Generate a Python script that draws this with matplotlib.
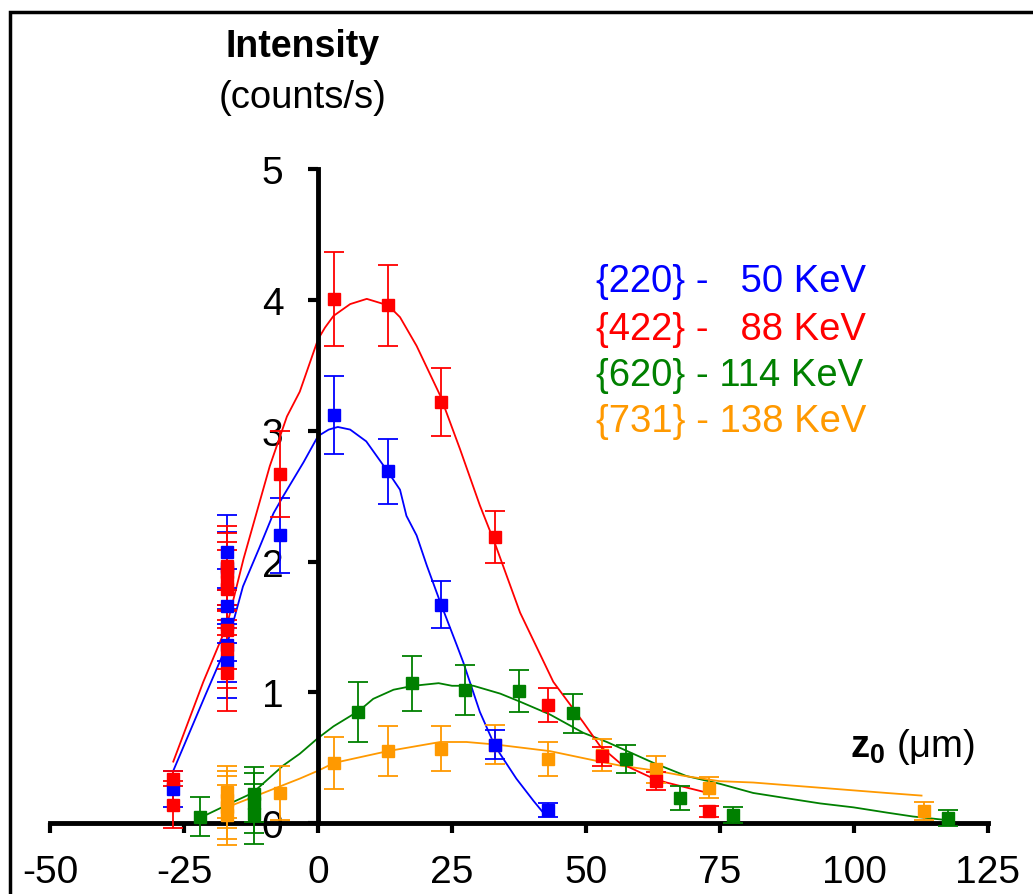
import matplotlib
matplotlib.use("Agg")
import matplotlib.pyplot as plt
from matplotlib.patches import Rectangle

plt.rcParams['font.family'] = ['Liberation Sans', 'DejaVu Sans']
plt.rcParams['axes.unicode_minus'] = False
plt.rcParams['mathtext.fontset'] = 'custom'
plt.rcParams['mathtext.rm'] = 'Liberation Sans'
plt.rcParams['mathtext.bf'] = 'Liberation Sans:bold'

# measured points: depth z0 (um), intensity (counts/s), error
z_220 = [-27, -17, -17, -17, -17, -17, -17, -7, 3, 13, 23, 33, 43]
i_220 = [0.26, 2.07, 1.95, 1.66, 1.52, 1.36, 1.24, 2.20, 3.12, 2.69, 1.67, 0.60, 0.10]
e_220 = [0.14, 0.29, 0.28, 0.28, 0.28, 0.28, 0.28, 0.29, 0.30, 0.25, 0.18, 0.11, 0.05]

z_422 = [-27, -27, -17, -17, -17, -17, -17, -17, -17, -7, 3, 13, 23, 33, 43, 53, 63, 73]
i_422 = [0.34, 0.14, 1.97, 1.92, 1.85, 1.79, 1.48, 1.33, 1.15, 2.67, 4.01, 3.96, 3.22, 2.19, 0.90, 0.51, 0.32, 0.09]
e_422 = [0.06, 0.18, 0.30, 0.30, 0.30, 0.30, 0.30, 0.30, 0.29, 0.33, 0.36, 0.31, 0.26, 0.20, 0.13, 0.07, 0.07, 0.04]

z_620 = [-22, -12, -12, -12, 7.5, 17.5, 27.5, 37.5, 47.5, 57.5, 67.5, 77.5, 117.5]
i_620 = [0.05, 0.22, 0.15, 0.07, 0.85, 1.07, 1.02, 1.01, 0.84, 0.49, 0.19, 0.06, 0.04]
e_620 = [0.15, 0.21, 0.23, 0.23, 0.23, 0.21, 0.19, 0.16, 0.15, 0.11, 0.09, 0.06, 0.06]

z_731 = [-17, -17, -17, -17, -7, 3, 13, 23, 33, 43, 53, 63, 73, 113]
i_731 = [0.24, 0.18, 0.12, 0.06, 0.23, 0.46, 0.55, 0.57, 0.60, 0.49, 0.52, 0.41, 0.27, 0.09]
e_731 = [0.20, 0.22, 0.24, 0.23, 0.21, 0.20, 0.19, 0.17, 0.15, 0.13, 0.12, 0.10, 0.08, 0.07]

# fitted curves
fz_220 = [-27, -21, -17, -14, -11, -8.3, -6.5, -2.7, 0, 2, 3.7, 6, 9, 13, 15.3, 16.5, 18.4, 20.3, 22.8, 25.9, 27.1, 30.2, 33, 37, 40.2, 42.4]
fi_220 = [0.40, 0.98, 1.36, 1.81, 2.10, 2.37, 2.50, 2.76, 2.96, 3.01, 3.03, 3.01, 2.92, 2.69, 2.55, 2.35, 2.20, 1.97, 1.69, 1.36, 1.23, 0.85, 0.59, 0.34, 0.17, 0.06]

fz_422 = [-27, -21.4, -17, -13.9, -9, -5.8, -3.4, 0, 1.3, 2.9, 6, 9.1, 13.1, 15.3, 18.4, 22.8, 26.5, 30.2, 33, 37.7, 43.9, 49.5, 52.6, 56.3, 62.6, 65, 72.8]
fi_422 = [0.47, 1.08, 1.51, 2.02, 2.73, 3.11, 3.30, 3.70, 3.79, 3.88, 3.97, 4.01, 3.96, 3.87, 3.65, 3.27, 2.86, 2.43, 2.14, 1.61, 1.08, 0.77, 0.59, 0.46, 0.34, 0.31, 0.23]

fz_620 = [-22, -16.4, -12.2, -6.5, -3.4, 0, 2.9, 7.7, 10.3, 14.1, 17.8, 22.5, 25, 29, 34, 37.6, 43.3, 49.5, 53.9, 58.8, 62.6, 68.7, 75, 81.2, 87.4, 93.7, 99.9, 106.1, 111, 117.9]
fi_620 = [0.04, 0.15, 0.23, 0.44, 0.53, 0.65, 0.74, 0.86, 0.95, 1.02, 1.05, 1.07, 1.05, 1.05, 0.99, 0.93, 0.83, 0.69, 0.62, 0.53, 0.46, 0.36, 0.30, 0.23, 0.19, 0.15, 0.12, 0.08, 0.05, 0.02]

fz_731 = [-17, -10.2, -6.5, -3.4, 0, 3, 13, 22.8, 27.7, 33.3, 43.3, 52.6, 56.3, 63.1, 68.4, 75, 81.2, 87.4, 93.7, 99.9, 106.1, 112.6]
fi_731 = [0.12, 0.23, 0.29, 0.34, 0.40, 0.46, 0.55, 0.62, 0.62, 0.60, 0.55, 0.47, 0.44, 0.40, 0.36, 0.32, 0.31, 0.29, 0.27, 0.25, 0.23, 0.21]

labels = ["{220} -   50 KeV", "{422} -   88 KeV", "{620} - 114 KeV", "{731} - 138 KeV"]
colors = ['#0000FF', '#FF0000', '#008000', '#FF9900']

W, H = 1033, 895
fig = plt.figure(figsize=(W / 100, H / 100), dpi=100, facecolor='white')
ax = fig.add_axes([50 / W, 0.00626, 938 / W, 0.8471])
ax.set_xlim(-50, 125)
ax.set_ylim(-0.5, 5.3)

series = [
    (z_620, i_620, e_620, fz_620, fi_620, colors[2]),
    (z_731, i_731, e_731, fz_731, fi_731, colors[3]),
    (z_220, i_220, e_220, fz_220, fi_220, colors[0]),
    (z_422, i_422, e_422, fz_422, fi_422, colors[1]),
]
for z, i, e, fz, fi, c in series:
    ax.plot(fz, fi, color=c, lw=1.3, zorder=2)
    ax.errorbar(z, i, yerr=e, fmt='s', color=c, ms=8, mec=c, mfc=c,
                elinewidth=1.3, capsize=7.5, capthick=1.3, zorder=3)

for s in ['top', 'right']:
    ax.spines[s].set_visible(False)
ax.spines['left'].set_position(('data', 0))
ax.spines['bottom'].set_position(('data', 0))
ax.spines['left'].set_bounds(0, 5)
ax.spines['bottom'].set_bounds(-50, 125)
ax.spines['left'].set_linewidth(3.5)
ax.spines['bottom'].set_linewidth(3.5)
ax.set_xticks(range(-50, 126, 25))
ax.set_yticks(range(0, 6))
ax.tick_params(axis='x', direction='out', length=7, width=3, labelsize=28, pad=15)
ax.tick_params(axis='y', direction='out', length=7, width=3, labelsize=28, pad=18)
ax.set_facecolor('none')

fig.text(303 / W, 1 - 47 / H, "Intensity", ha='center', va='center', fontsize=27, fontweight='bold')
fig.text(303 / W, 1 - 98 / H, "(counts/s)", ha='center', va='center', fontsize=27.5)

ys = [282, 330, 376, 422]
for lab, c, y in zip(labels, colors, ys):
    fig.text(596 / W, 1 - y / H, lab, ha='left', va='center', fontsize=27.5, color=c)

fig.text(850 / W, 1 - 757 / H, r'$\mathbf{z_0}$ (μm)', ha='left', va='baseline', fontsize=27.5)

fig.add_artist(Rectangle((10 / W, -0.5), 2, (1 - 13 / H) + 0.5, fill=False,
                         lw=2.5, ec='black', transform=fig.transFigure))

fig.savefig('out.png', dpi=100, facecolor='white')
